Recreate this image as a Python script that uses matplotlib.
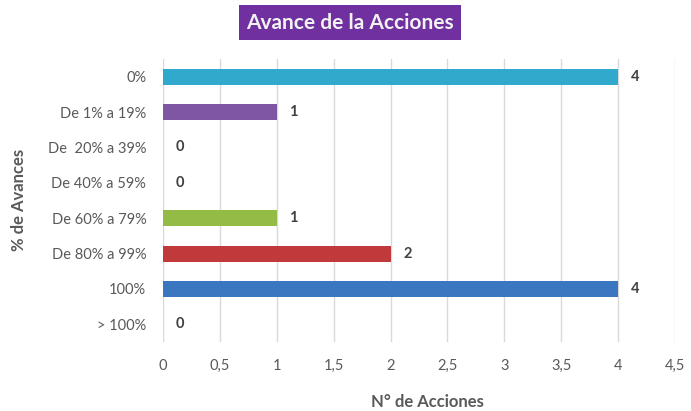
import matplotlib
matplotlib.use("Agg")
import matplotlib.pyplot as plt
from matplotlib.ticker import FuncFormatter

categories = ["0%", "De 1% a 19%", "De  20% a 39%", "De 40% a 59%",
              "De 60% a 79%", "De 80% a 99%", "100%", "> 100%"]
values = [4, 1, 0, 0, 1, 2, 4, 0]
colors = ["#31A9CC", "#7E56A3", "#888888", "#888888",
          "#93BB45", "#C0393B", "#3A77C0", "#888888"]
xticks = [0, 0.5, 1, 1.5, 2, 2.5, 3, 3.5, 4, 4.5]

plt.rcParams['font.family'] = ['Lato', 'DejaVu Sans']

fig = plt.figure(figsize=(6.91, 4.11), dpi=100)
ax = fig.add_axes([0.2359, 0.1679, 0.7410, 0.6885])

y = list(range(len(categories)))
ax.barh(y, values, height=0.45, color=colors, zorder=3)
for yi, v in zip(y, values):
    ax.text(v + 0.11, yi, str(v), va='center', ha='left', fontsize=10.5,
            fontweight='bold', color='#404040', zorder=4)

ax.set_ylim(len(categories) - 0.5, -0.5)
ax.set_xlim(0, 4.5)
ax.set_xticks(xticks)
ax.xaxis.set_major_formatter(FuncFormatter(lambda v, p: ('%g' % v).replace('.', ',')))
ax.set_yticks(y)
ax.set_yticklabels(categories)
ax.tick_params(axis='both', length=0, labelsize=10.5, colors='#595959')
ax.tick_params(axis='x', pad=12)
ax.tick_params(axis='y', pad=12)
ax.grid(axis='x', color='#D9D9D9', linewidth=1, zorder=0)
for s in ax.spines.values():
    s.set_visible(False)

ax.set_xlabel("N° de Acciones", fontsize=12, fontweight='bold', color='#595959', va='center')
ax.set_ylabel("% de Avances", fontsize=12, fontweight='bold', color='#595959', va='center')
ax.xaxis.set_label_coords(0.619, 0.022, transform=fig.transFigure)
ax.yaxis.set_label_coords(0.027, 0.513, transform=fig.transFigure)

fig.text(0.506, 0.945, "Avance de la Acciones", ha='center', va='center',
         fontsize=15, fontweight='bold', color='#F2F2F2',
         bbox=dict(boxstyle='square,pad=0.35', facecolor='#7030A0', edgecolor='none'))

fig.savefig("out.png", dpi=100)
